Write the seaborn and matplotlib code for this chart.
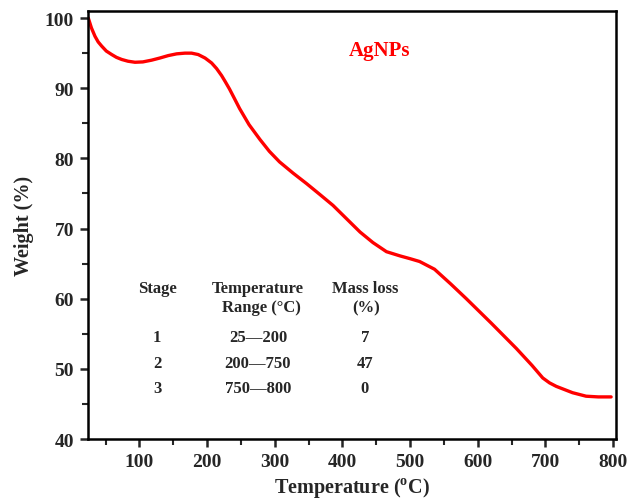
import numpy as np
import pandas as pd
import matplotlib
matplotlib.use("Agg")
import matplotlib.pyplot as plt
import seaborn as sns
from matplotlib.ticker import MultipleLocator

# TGA curve
temperature = [24.4, 29, 34.3, 39, 44.2, 51, 59.0, 66, 73.7, 83, 93.4, 105, 118.0, 130,
               142.5, 155, 167.2, 177, 186.8, 197, 206.6, 214, 221.4, 227, 233, 240,
               248, 262, 278, 292, 307, 327, 347, 366, 386, 406, 426, 445, 465, 485,
               500, 514, 536, 560, 583, 620, 657, 680, 696, 706, 716, 740, 760, 778, 797]
weight = [100.0, 98.6, 97.4, 96.6, 96.0, 95.3, 94.8, 94.4, 94.1, 93.85, 93.7, 93.75,
          94.0, 94.3, 94.65, 94.9, 95.0, 95.0, 94.8, 94.3, 93.6, 92.8, 91.8, 90.9,
          89.9, 88.6, 87.1, 84.8, 82.7, 81.0, 79.5, 77.9, 76.4, 74.9, 73.3, 71.4,
          69.5, 68.0, 66.7, 66.1, 65.7, 65.3, 64.2, 62.1, 60.0, 56.5, 52.9, 50.5,
          48.7, 48.0, 47.5, 46.6, 46.1, 46.0, 46.0]

# stage table
stages = ["1", "2", "3"]
temp_ranges = ["25\u2014200", "200\u2014750", "750\u2014800"]
mass_loss = ["7", "47", "0"]

df = pd.DataFrame({"Temperature": temperature, "Weight": weight})

sns.set_style("ticks")
plt.rcParams['font.family'] = ['Liberation Serif', 'DejaVu Serif']
plt.rcParams['font.weight'] = 'bold'
plt.rcParams['mathtext.fontset'] = 'custom'
plt.rcParams['mathtext.rm'] = 'Liberation Serif:bold'
plt.rcParams['mathtext.bf'] = 'Liberation Serif:bold'

fig = plt.figure(figsize=(6.31, 5.02), dpi=100)
ax = fig.add_axes([0.1395, 0.1235, 0.8365, 0.8525])

sns.lineplot(data=df, x="Temperature", y="Weight", ax=ax, color="red", linewidth=2.4)

ax.set_xlim(24, 804)
ax.set_ylim(40, 101)
ax.xaxis.set_major_locator(MultipleLocator(100))
ax.xaxis.set_minor_locator(MultipleLocator(50))
ax.yaxis.set_major_locator(MultipleLocator(10))
ax.yaxis.set_minor_locator(MultipleLocator(5))
ax.set_xticks([100, 200, 300, 400, 500, 600, 700, 800])

for s in ax.spines.values():
    s.set_linewidth(1.8)
    s.set_color("black")
ax.tick_params(which="major", direction="out", length=6, width=1.8, labelsize=14, pad=4)
ax.tick_params(which="minor", direction="out", length=4, width=1.5)
for lab in ax.get_xticklabels() + ax.get_yticklabels():
    lab.set_fontweight("bold")

ax.set_xlabel("Temperature ($^{\\mathrm{o}}$C)", fontsize=14.5, fontweight="bold", labelpad=4)
ax.set_ylabel("Weight (%)", fontsize=14.5, fontweight="bold", labelpad=8)

ax.text(455, 95.5, "AgNPs", color="red", fontsize=15, fontweight="bold",
        ha="center", va="center")

# table inside the plot
col_x = [126, 275, 433]
tk = dict(fontsize=12, fontweight="bold", ha="center", va="center")
ax.text(col_x[0], 61.5, "Stage", **tk)
ax.text(col_x[1], 61.5, "Temperature", **tk)
ax.text(col_x[1] + 5, 58.8, "Range (\u00b0C)", **tk)
ax.text(col_x[2], 61.5, "Mass loss", **tk)
ax.text(col_x[2] + 2, 58.8, "(%)", **tk)
row_y = [54.6, 50.9, 47.2]
for i in range(3):
    ax.text(col_x[0], row_y[i], stages[i], **tk)
    ax.text(col_x[1], row_y[i], temp_ranges[i], **tk)
    ax.text(col_x[2], row_y[i], mass_loss[i], **tk)

fig.savefig("out.png", dpi=100)
